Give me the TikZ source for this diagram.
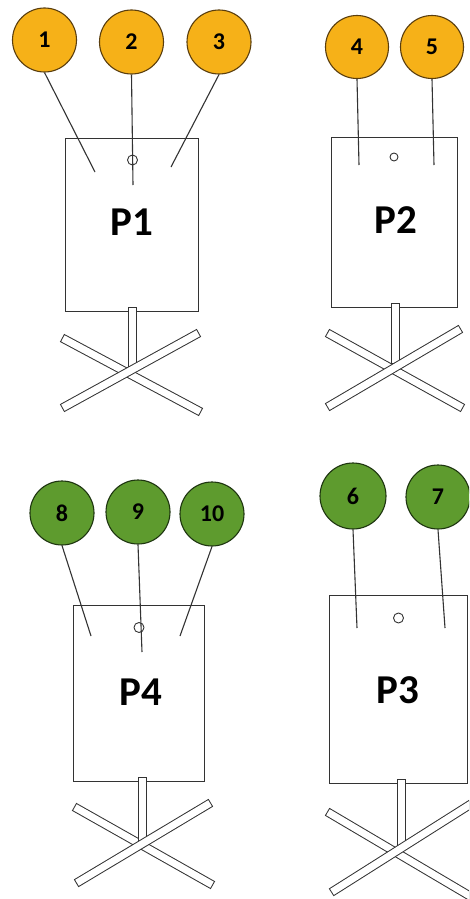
\documentclass[tikz,border=0pt]{standalone}
\usepackage{fontspec}
\setmainfont{Carlito}
\definecolor{orangeF}{HTML}{F6B118}
\definecolor{orangeD}{HTML}{5A3E0E}
\definecolor{greenF}{HTML}{5E9B2E}
\definecolor{greenD}{HTML}{1E3510}
\definecolor{inkC}{HTML}{333333}
\tikzset{
  ball/.style={circle, draw, line width=1.1pt, inner sep=0pt, font=\bfseries\fontsize{24}{24}\selectfont, text=black},
  oball/.style={ball, fill=orangeF, draw=orangeD},
  gball/.style={ball, fill=greenF, draw=greenD},
  board/.style={rectangle, draw=inkC, line width=0.9pt, fill=white, inner sep=0pt},
  plabel/.style={font=\bfseries\fontsize{41}{41}\selectfont, text=black, inner sep=0pt},
  hole/.style={circle, draw=inkC, line width=0.9pt, inner sep=0pt, minimum size=#1},
  wire/.style={draw=inkC, line width=1.1pt},
  barout/.style={draw=inkC, line width=9pt, line cap=rect},
  barin/.style={draw=white, line width=7pt, line cap=rect},
}
\newcommand{\standbar}[2]{\draw[barout] #1 -- #2; \draw[barin] #1 -- #2;}
\begin{document}
\begin{tikzpicture}[x=1pt,y=-1pt]
\useasboundingbox (0,0) rectangle (469,899);
\clip (0,0) rectangle (469,899);
\fill[white] (0,0) rectangle (469,899);

% ---------- P1 ----------
\node[board, minimum width=133pt, minimum height=173pt] (b1) at (131.5,224.5) {};
\node[plabel] (l1) at (131.5,222) {P1};
\node[oball, minimum size=64pt] (c1) at (44.5,40) {1};
\node[oball, minimum size=64pt] (c2) at (131.5,42) {2};
\node[oball, minimum size=64pt] (c3) at (219,42) {3};
\node[hole=10pt] (h1) at (132.5,160) {};
\coordinate (e1) at (95,172);
\coordinate (e2) at (133,185);
\coordinate (e3) at (171,167);
\draw[wire] (c1.south) -- (e1);
\draw[wire] (c2.south) -- (e2);
\draw[wire] (c3.south) -- (e3);
\coordinate (p1t) at (132,311);
\coordinate (p1b) at (132,366);
\coordinate (a1s) at (66,340);
\coordinate (a1e) at (197,410);
\coordinate (d1s) at (66,406);
\coordinate (d1e) at (195,335);
\standbar{(a1s)}{(a1e)}
\standbar{(p1t)}{(p1b)}
\standbar{(d1s)}{(d1e)}

% ---------- P2 ----------
\node[board, minimum width=126pt, minimum height=170pt] (b2) at (394,222) {};
\node[plabel] (l2) at (396,220) {P2};
\node[oball, minimum size=63pt] (c4) at (357,47) {4};
\node[oball, minimum size=63pt] (c5) at (432,47) {5};
\coordinate (e4) at (359,165);
\coordinate (e5) at (434,165);
\draw[wire] (c4.south) -- (e4);
\draw[wire] (c5.south) -- (e5);
\node[hole=8pt] (h2) at (394,157) {};
\coordinate (p2t) at (395,307);
\coordinate (p2b) at (395,359);
\coordinate (a2s) at (331,335);
\coordinate (a2e) at (459,406);
\coordinate (d2s) at (331,405);
\coordinate (d2e) at (457,331);
\standbar{(a2s)}{(a2e)}
\standbar{(p2t)}{(p2b)}
\standbar{(d2s)}{(d2e)}

% ---------- P4 ----------
\node[board, minimum width=131pt, minimum height=176pt] (b4) at (138.5,693) {};
\node[plabel] (l4) at (141,692) {P4};
\node[gball, minimum size=64pt] (c8) at (62,513) {8};
\node[gball, minimum size=64pt] (c9) at (138,512) {9};
\node[gball, minimum size=64pt] (c10) at (212,514) {10};
\node[hole=10pt] (h4) at (139,627.5) {};
\coordinate (e8) at (91,636);
\coordinate (e9) at (142,652);
\coordinate (e10) at (180,636);
\draw[wire] (c8.south) -- (e8);
\draw[wire] (c9.south) -- (e9);
\draw[wire] (c10.south) -- (e10);
\coordinate (p4t) at (142.5,781);
\coordinate (p4b) at (142.5,837);
\coordinate (a4s) at (78,809);
\coordinate (a4e) at (209,883);
\coordinate (d4s) at (80,881);
\coordinate (d4e) at (207,805);
\standbar{(a4s)}{(a4e)}
\standbar{(p4t)}{(p4b)}
\standbar{(d4s)}{(d4e)}

% ---------- P3 ----------
\node[board, minimum width=138pt, minimum height=188pt] (b3) at (398,689) {};
\node[plabel] (l3) at (398,690) {P3};
\node[gball, minimum size=66pt] (c6) at (353,496) {6};
\node[gball, minimum size=64pt] (c7) at (438,497) {7};
\coordinate (e6) at (357,628);
\coordinate (e7) at (445,628);
\draw[wire] (c6.south) -- (e6);
\draw[wire] (c7.south) -- (e7);
\node[hole=10pt] (h3) at (398.5,618) {};
\coordinate (p3t) at (401.5,783);
\coordinate (p3b) at (401.5,844);
\coordinate (a3s) at (331,814);
\coordinate (a3e) at (480,902);
\coordinate (d3s) at (335,890);
\coordinate (d3e) at (482,797);
\standbar{(a3s)}{(a3e)}
\standbar{(p3t)}{(p3b)}
\standbar{(d3s)}{(d3e)}
\end{tikzpicture}
\end{document}
